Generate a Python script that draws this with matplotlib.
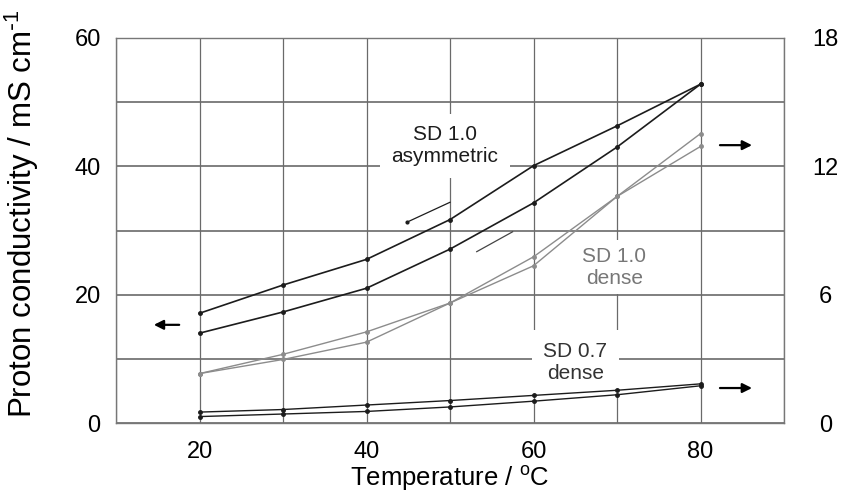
import numpy as np
import matplotlib
matplotlib.use("Agg")
import matplotlib.pyplot as plt
from matplotlib.ticker import MultipleLocator

plt.rcParams['font.family'] = ['Liberation Sans', 'DejaVu Sans']
plt.rcParams['mathtext.default'] = 'regular'

# temperature / oC
temp = [20, 30, 40, 50, 60, 70, 80]

# all curves read in left-axis units (right axis = left * 0.3)
asym_a = [17.1, 21.5, 25.5, 31.7, 40.1, 46.3, 52.8]
asym_b = [14.0, 17.3, 21.0, 27.1, 34.3, 43.0, 52.8]
dense10_a = [7.7, 10.7, 14.2, 18.7, 24.5, 35.3, 43.1]
dense10_b = [7.7, 9.9, 12.6, 18.7, 25.9, 35.3, 45.1]
dense07_a = [1.7, 2.1, 2.8, 3.5, 4.3, 5.1, 6.1]
dense07_b = [1.0, 1.4, 1.8, 2.5, 3.4, 4.4, 5.8]

right_ticks = [0, 6, 12, 18]

dark = '#1c1c1c'
grey = '#8c8c8c'
gridc = '#6a6a6a'

fig = plt.figure(figsize=(8.42, 4.95), dpi=100)
ax = fig.add_axes([116/842, 1 - 423/495, 668/842, 385/495])

ax.set_xlim(10, 90)
ax.set_ylim(0, 60)
ax.xaxis.set_major_locator(MultipleLocator(20))
ax.xaxis.set_minor_locator(MultipleLocator(10))
ax.yaxis.set_major_locator(MultipleLocator(20))
ax.yaxis.set_minor_locator(MultipleLocator(10))
ax.grid(True, which='both', axis='x', color=gridc, lw=0.9, zorder=0)
ax.grid(True, which='both', axis='y', color=gridc, lw=1.2, zorder=0)
ax.set_axisbelow(True)
ax.set_xticks([20, 40, 60, 80])
ax.tick_params(which='both', length=0, labelsize=17)
ax.tick_params(axis='y', pad=11)
ax.tick_params(axis='x', pad=13)
for s in ax.spines.values():
    s.set_color('#777777')
    s.set_linewidth(1.0)

for ys, c, lw in [(asym_a, dark, 1.2), (asym_b, dark, 1.2),
                  (dense10_a, grey, 1.0), (dense10_b, grey, 1.0),
                  (dense07_a, dark, 1.0), (dense07_b, dark, 1.0)]:
    ax.plot(temp, ys, color=c, lw=lw, marker='o', ms=2.5, zorder=4)

# leader lines
ax.plot([44.85, 50.0], [31.3, 34.4], color=dark, lw=0.9, zorder=4)
ax.plot([44.85], [31.3], 'o', color=dark, ms=2, zorder=4)
ax.plot([53.2, 57.5], [26.7, 29.8], color='#444444', lw=0.9, zorder=4)

box = dict(facecolor='white', edgecolor='none', boxstyle='square,pad=0.55')
ax.text(49.4, 43.2, 'SD 1.0\nasymmetric', fontsize=15, color=dark,
        ha='center', va='center', bbox=box, zorder=3)
ax.text(69.7, 24.3, 'SD 1.0\ndense', fontsize=15, color='#777777',
        ha='center', va='center', zorder=3,
        bbox=dict(facecolor='white', edgecolor='none', boxstyle='square,pad=0.3'))
ax.text(65.0, 9.5, 'SD 0.7\ndense', fontsize=15, color='#333333',
        ha='center', va='center', bbox=box, zorder=3)

# arrows showing which axis
arr = dict(arrowstyle='-|>', color='black', lw=1.6, mutation_scale=14)
ax.annotate('', xy=(14.2, 15.3), xytext=(17.9, 15.3), arrowprops=arr)
ax.annotate('', xy=(86.5, 43.3), xytext=(82.0, 43.3), arrowprops=arr)
ax.annotate('', xy=(86.5, 5.45), xytext=(82.0, 5.45), arrowprops=arr)

ax.set_xlabel('Temperature / $^{o}$C', fontsize=18.5, labelpad=1)
ax.set_ylabel(r'Proton conductivity / mS cm$^{\text{-}1}$', fontsize=22.5)
ax.yaxis.set_label_coords(-0.113, 0.543)

ax2 = ax.twinx()
ax2.set_ylim(0, 18)
ax2.set_yticks(right_ticks)
ax2.tick_params(length=0, labelsize=17, pad=30)
for lab in ax2.get_yticklabels():
    lab.set_horizontalalignment('center')
for s in ax2.spines.values():
    s.set_visible(False)

fig.savefig('out.png', dpi=100)
